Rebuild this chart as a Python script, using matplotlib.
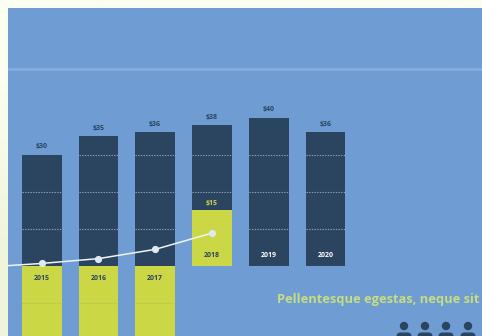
import matplotlib
matplotlib.use("Agg")
import matplotlib.pyplot as plt
from matplotlib.colors import to_rgb
from matplotlib.patches import Circle, FancyBboxPatch

plt.rcParams['font.family'] = ['Open Sans', 'DejaVu Sans']

# ── Data ──────────────────────────────────────
years       = [2015, 2016, 2017, 2018, 2019, 2020]
totals      = [30, 35, 36, 38, 40, 36]
lower_years = [2015, 2016, 2017]
lower_vals  = [-25, -25, -25]
part_year   = 2018
part_value  = 15
trend_x     = [2014.4, 2015, 2016, 2017, 2018]
trend_y     = [0, 0.6, 1.9, 4.4, 8.8]
grid_vals   = [10, 20, 30]
lower_grid  = -10
top_rule    = 53
caption     = "Pellentesque egestas, neque sit"

# ── Colours ───────────────────────────────────
PAGE_TOP = "#FBFEF0"
PAGE_LOW = "#EFF5DA"
PANEL    = "#6F9CD3"
NAVY     = "#2B4460"
YELLOW   = "#CBD744"
RULE     = "#86AEDD"
DOTS     = "#8BA3BA"
PALE     = "#C6DD82"

W, H = 482, 336
fig = plt.figure(figsize=(W / 100, H / 100), dpi=100, facecolor=PAGE_TOP)

# Page background fades slightly towards the bottom
back = fig.add_axes([0, 0, 1, 1])
back.imshow([[to_rgb(PAGE_TOP)], [to_rgb(PAGE_LOW)]], aspect='auto',
            interpolation='bilinear')
back.axis('off')

ax = fig.add_axes([8 / W, 0, (W - 8) / W, (H - 8) / H], facecolor=PANEL)
ax.set_xlim(2014.406, 2022.76)
ax.set_ylim(-19, 69.6)
ax.axis('off')
ax.add_patch(plt.Rectangle((0, 0), 1, 1, transform=ax.transAxes,
                           facecolor=PANEL, edgecolor='none', zorder=0))

BAR_W = 0.7

ax.axhline(top_rule, color=RULE, linewidth=1.8, zorder=1)

ax.bar(years, totals, BAR_W, color=NAVY, zorder=2)
ax.bar(lower_years, lower_vals, BAR_W, color=YELLOW, zorder=2)
ax.bar([part_year], [part_value], BAR_W, color=YELLOW, zorder=3)

# Dotted guides only show on top of the bars
for year, total in zip(years, totals):
    for g in grid_vals:
        if g < total and not (year == part_year and g < part_value):
            ax.plot([year - BAR_W / 2, year + BAR_W / 2], [g, g], color=DOTS,
                    linewidth=0.8, linestyle=(0, (1.2, 1.2)), zorder=4)
for year in lower_years:
    ax.plot([year - BAR_W / 2, year + BAR_W / 2], [lower_grid, lower_grid],
            color="#B4C24E", linewidth=0.8, linestyle=(0, (1.2, 1.2)), zorder=4)

for year, total in zip(years, totals):
    ax.annotate(f"${total}", (year, total), xytext=(0, 3),
                textcoords='offset points', ha='center', va='bottom',
                fontsize=5, fontweight='bold', color=NAVY, zorder=6)
ax.annotate(f"${part_value}", (part_year, part_value), xytext=(0, 2.5),
            textcoords='offset points', ha='center', va='bottom',
            fontsize=5, fontweight='bold', color=YELLOW, zorder=6)

# Year labels sit under the baseline for the first three bars
for year in years:
    below = year in lower_years
    color = NAVY if year <= part_year else "white"
    ax.annotate(str(year), (year, 0), xytext=(0, -9 if below else 7),
                textcoords='offset points', ha='center', va='center',
                fontsize=5, fontweight='bold', color=color, zorder=6)

ax.plot(trend_x, trend_y, color="#EEF4FA", linewidth=1.1, marker='o',
        markersize=5.2, markerfacecolor="#DFE9F2", markeredgecolor='none',
        markevery=[1, 2, 3, 4], zorder=5)

ax.text(277 / W, (H - 299) / H, caption, transform=fig.transFigure,
        fontsize=9.3, fontweight='bold', color=PALE, va='center', ha='left',
        zorder=6)

# Row of people icons along the lower edge, in figure pixels
overlay = fig.add_axes([0, 0, 1, 1], facecolor='none')
overlay.set_xlim(0, W)
overlay.set_ylim(H, 0)
overlay.axis('off')
for cx in [404, 425, 446, 468]:
    overlay.add_patch(Circle((cx, 326), 4.2, facecolor=NAVY, edgecolor='none'))
    overlay.add_patch(FancyBboxPatch((cx - 7.5, 332.5), 15, 8,
                                     boxstyle="round,pad=0,rounding_size=4",
                                     facecolor=NAVY, edgecolor='none'))

fig.savefig("out.png", dpi=100, facecolor=PAGE_TOP)
